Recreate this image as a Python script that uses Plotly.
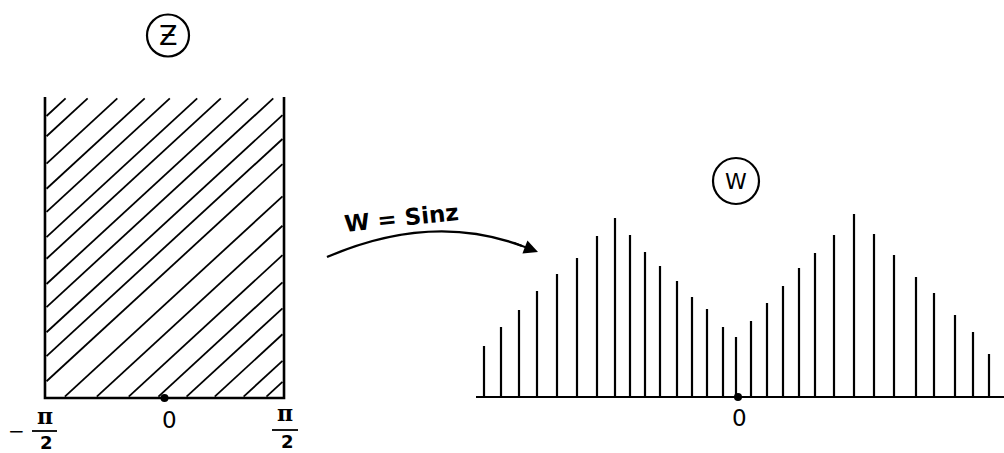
import math
import plotly.graph_objects as go

# z-plane: half-strip -pi/2 < Re z < pi/2, Im z > 0 (hatched)
strip_left = -math.pi / 2
strip_right = math.pi / 2
strip_top = 3.956
hatch_slope = 0.92
hatch_offsets = [-5.58, -5.29, -4.90, -4.54, -4.21, -3.85, -3.54, -3.18, -2.85, -2.49,
                 -2.15, -1.79, -1.33, -0.91, -0.49, -0.10, 0.27, 0.64, 1.02, 1.32]

# w-plane: vertical strokes filling the upper half-plane
w_x = [-2.54, -2.37, -2.19, -2.01, -1.81, -1.61, -1.41, -1.23, -1.08, -0.93,
       -0.78, -0.61, -0.46, -0.31, -0.15, -0.02, 0.13, 0.29, 0.45, 0.61,
       0.77, 0.96, 1.16, 1.36, 1.56, 1.78, 1.96, 2.17, 2.35, 2.51]
w_h = [0.51, 0.70, 0.87, 1.06, 1.23, 1.39, 1.61, 1.79, 1.62, 1.45,
       1.31, 1.16, 1.00, 0.88, 0.70, 0.60, 0.76, 0.94, 1.11, 1.29,
       1.44, 1.62, 1.83, 1.63, 1.42, 1.20, 1.04, 0.82, 0.65, 0.43]
w_axis = [-2.62, 2.66]

W, H = 1004, 453


def fx(p):
    return p / W


def fy(p):
    return 1 - p / H


INK = "black"
fig = go.Figure()

# ---- z plane ----
fig.add_trace(go.Scatter(
    x=[strip_left, strip_left, strip_right, strip_right],
    y=[strip_top, 0, 0, strip_top],
    mode="lines", line=dict(color=INK, width=2.6),
    xaxis="x2", yaxis="y2", hoverinfo="skip"))

hx, hy = [], []
for c in hatch_offsets:
    x_lo = max(strip_left, c) + 0.02
    x_hi = min(strip_right, c + strip_top / hatch_slope) - 0.02
    if x_lo < x_hi:
        hx += [x_lo, x_hi, None]
        hy += [hatch_slope * (x_lo - c), hatch_slope * (x_hi - c), None]
fig.add_trace(go.Scatter(x=hx, y=hy, mode="lines", line=dict(color=INK, width=1.8),
                         xaxis="x2", yaxis="y2", hoverinfo="skip"))
fig.add_trace(go.Scatter(x=[0], y=[0], mode="markers", marker=dict(color=INK, size=8),
                         xaxis="x2", yaxis="y2", cliponaxis=False, hoverinfo="skip"))

# ---- w plane ----
fig.add_trace(go.Scatter(x=w_axis, y=[0, 0], mode="lines",
                         line=dict(color=INK, width=2.2), hoverinfo="skip"))
bx, by = [], []
for x, h in zip(w_x, w_h):
    bx += [x, x, None]
    by += [0, h, None]
fig.add_trace(go.Scatter(x=bx, y=by, mode="lines", line=dict(color=INK, width=2.2),
                         hoverinfo="skip"))
fig.add_trace(go.Scatter(x=[0], y=[0], mode="markers", marker=dict(color=INK, size=8),
                         cliponaxis=False, hoverinfo="skip"))

hidden = dict(visible=False, showgrid=False, zeroline=False, fixedrange=True)
fig.update_layout(
    width=W, height=H, margin=dict(l=0, r=0, t=0, b=0),
    paper_bgcolor="white", plot_bgcolor="white", showlegend=False,
    xaxis=dict(domain=[fx(470), 1], range=[(470 - 738) / 100, (1004 - 738) / 100], **hidden),
    yaxis=dict(domain=[fy(405), fy(190)], range=[(397 - 405) / 100, (397 - 190) / 100], **hidden),
    xaxis2=dict(domain=[fx(30), fx(300)], range=[(30 - 164.5) / 76.08, (300 - 164.5) / 76.08],
                anchor="y2", **hidden),
    yaxis2=dict(domain=[fy(410), fy(85)], range=[(398 - 410) / 76.08, (398 - 85) / 76.08],
                anchor="x2", **hidden),
)

shapes = []
# circled labels
for cx, cy, r in [(168, 35.5, 21), (736, 181, 23)]:
    shapes.append(dict(type="circle", xref="paper", yref="paper",
                       x0=fx(cx - r), x1=fx(cx + r), y0=fy(cy + r), y1=fy(cy - r),
                       line=dict(color=INK, width=2.2)))
# fraction bars
for x0, x1, y in [(32, 57, 431), (272, 298, 430)]:
    shapes.append(dict(type="line", xref="paper", yref="paper",
                       x0=fx(x0), x1=fx(x1), y0=fy(y), y1=fy(y),
                       line=dict(color=INK, width=1.8)))
# mapping arrow (one quadratic curve)
path = "M {} {} Q {} {} {} {}".format(fx(327), fy(257), fx(432), fy(212), fx(522), fy(246))
shapes.append(dict(type="path", xref="paper", yref="paper", path=path,
                   line=dict(color=INK, width=2.4)))
fig.update_layout(shapes=shapes)

ann = []


def label(text, x, y, size, fam="DejaVu Sans", angle=0):
    ann.append(dict(text=text, x=fx(x), y=fy(y), xref="paper", yref="paper",
                    xanchor="center", yanchor="middle",
                    showarrow=False, textangle=angle,
                    font=dict(family=fam, size=size, color=INK)))


label("Ƶ", 168, 36, 27)
label("W", 736, 181, 22)
label("0", 169, 420, 23)
label("0", 739, 418, 23)
label("−", 16, 431, 20)
label("<b>π</b>", 45, 416, 22, "DejaVu Serif")
label("<b>2</b>", 46, 442, 18)
label("<b>π</b>", 285, 413, 22, "DejaVu Serif")
label("<b>2</b>", 287, 441, 18)
label("<b>W = Sinz</b>", 401, 218, 23, angle=-6)
ann.append(dict(x=fx(538), y=fy(252), xref="paper", yref="paper", text="",
                showarrow=True, ax=-26, ay=-10, arrowhead=2, arrowsize=1.4,
                arrowwidth=2, arrowcolor=INK))
fig.update_layout(annotations=ann)

fig.write_html("out.html", config={"displayModeBar": False},
               post_script="document.body.style.margin='0';")
